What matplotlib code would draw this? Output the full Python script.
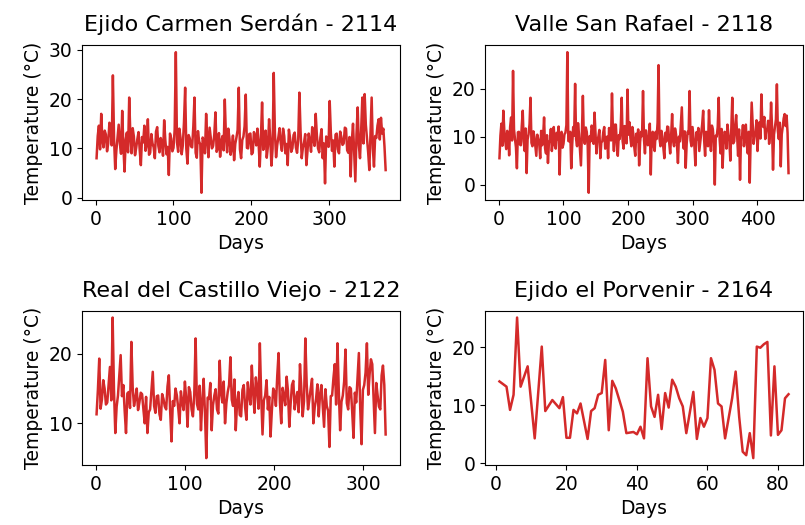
import matplotlib
matplotlib.use('Agg')
import matplotlib.pyplot as plt
import numpy as np

# Estaciones y datos
titles = ['Ejido Carmen Serdán - 2114', 'Valle San Rafael - 2118',
          'Real del Castillo Viejo - 2122', 'Ejido el Porvenir - 2164']

# 2114: un valor cada 1.5 días
temp_2114 = [8.0, 12.5, 14.6, 9.8, 17.0, 11.5, 10.2, 13.6, 12.8, 9.4,
             11.0, 15.2, 14.2, 10.6, 24.8, 12.0, 5.8, 9.6, 12.1, 14.8,
             11.0, 8.9, 17.6, 10.4, 5.3, 11.8, 13.2, 9.2, 20.3, 12.6,
             9.0, 14.1, 12.4, 8.6, 10.1, 11.9, 13.3, 9.7, 6.6, 12.3,
             11.2, 14.6, 9.5, 10.8, 15.9, 8.7, 9.1, 12.9, 11.0, 10.2,
             8.0, 13.4, 14.3, 10.5, 9.2, 12.1, 11.3, 8.5, 15.7, 11.6,
             8.8, 10.3, 4.6, 13.0, 12.0, 9.4, 10.1, 13.8, 29.5, 11.2,
             9.3, 14.0, 12.2, 8.8, 10.6, 15.3, 22.3, 9.9, 6.9, 12.7,
             12.0, 10.4, 10.2, 14.4, 20.3, 9.1, 8.1, 13.5, 11.4, 10.8,
             1.0, 12.2, 11.5, 9.0, 17.0, 11.9, 8.2, 14.2, 12.0, 10.0,
             10.5, 12.8, 17.3, 9.3, 10.0, 13.1, 8.3, 11.4, 12.5, 9.6,
             19.9, 12.4, 9.2, 14.0, 12.0, 8.7, 10.2, 12.6, 7.6, 10.9,
             12.2, 13.7, 22.3, 9.8, 8.0, 11.7, 12.4, 14.5, 20.9, 10.1,
             10.0, 12.9, 13.0, 8.8, 9.1, 13.3, 12.5, 10.6, 14.0, 11.1,
             6.3, 12.2, 19.3, 9.7, 11.0, 13.6, 8.1, 10.4, 15.9, 12.0,
             6.5, 9.9, 25.3, 13.2, 8.2, 10.7, 12.3, 14.1, 11.1, 9.5,
             14.0, 12.5, 9.0, 10.9, 6.6, 13.8, 12.1, 9.3, 10.0, 12.7,
             13.2, 10.2, 9.1, 11.8, 21.3, 13.5, 8.0, 10.1, 11.2, 12.9,
             6.6, 9.6, 13.0, 11.4, 9.3, 14.3, 12.0, 10.5, 17.0, 12.6,
             10.0, 9.2, 12.2, 13.9, 8.0, 11.0, 2.9, 12.4, 12.0, 10.3,
             19.6, 13.1, 9.5, 11.6, 6.3, 12.8, 13.0, 9.8, 9.0, 13.4,
             12.3, 10.7, 11.0, 14.2, 14.0, 9.6, 9.1, 12.3, 4.3, 11.5,
             15.0, 9.4, 3.3, 12.9, 18.3, 10.6, 8.0, 13.7, 20.3, 11.0,
             21.0, 14.8, 12.0, 9.2, 5.6, 13.3, 20.3, 10.0, 6.3, 12.5,
             12.1, 14.6, 15.9, 11.8, 16.2, 13.0, 14.0, 10.4, 5.6]
days_2114 = 1 + 1.5 * np.arange(len(temp_2114))

# 2118
temp_2118 = [5.5, 10.2, 12.7, 8.1, 15.4, 11.3, 9.0, 7.4, 11.2, 10.6,
             6.1, 12.0, 14.0, 9.2, 23.7, 11.5, 9.5, 7.8, 3.4, 10.9,
             11.0, 8.4, 8.2, 12.2, 15.4, 9.0, 7.0, 11.7, 2.4, 9.4,
             10.5, 12.6, 18.1, 8.7, 8.0, 11.1, 10.0, 7.9, 6.0, 10.4,
             9.5, 8.6, 5.5, 11.2, 8.2, 9.9, 14.0, 7.6, 6.5, 10.3,
             4.5, 8.9, 9.0, 11.6, 7.0, 9.3, 12.0, 8.2, 7.5, 10.8,
             9.5, 12.1, 2.1, 9.6, 11.0, 7.7, 8.5, 10.5, 10.8, 12.4,
             27.6, 9.1, 9.0, 11.0, 3.4, 8.3, 12.0, 10.2, 21.0, 9.5,
             8.0, 12.8, 10.5, 7.2, 4.0, 10.7, 18.5, 9.4, 8.5, 11.9,
             11.0, 8.0, -1.7, 10.1, 9.0, 12.3, 11.5, 8.5, 15.0, 10.6,
             6.5, 9.3, 10.0, 11.4, 5.5, 8.8, 9.0, 10.9, 12.0, 7.5,
             8.0, 10.0, 5.5, 11.8, 10.0, 9.2, 19.0, 10.8, 7.0, 12.5,
             12.5, 8.4, 6.0, 10.3, 9.5, 11.9, 18.1, 9.0, 7.5, 12.2,
             11.0, 8.6, 19.8, 10.4, 13.0, 9.7, 8.0, 12.0, 10.5, 7.8,
             6.0, 10.6, 9.0, 11.5, 4.0, 8.9, 11.0, 10.1, 19.5, 9.4,
             6.5, 11.3, 10.0, 8.2, 8.5, 12.7, 2.1, 10.5, 11.0, 8.1,
             7.0, 11.0, 9.5, 12.9, 24.9, 9.6, 8.0, 11.2, 10.0, 7.6,
             5.5, 10.8, 9.0, 12.1, 12.0, 8.7, 6.5, 10.3, 14.7, 9.1,
             8.0, 11.7, 10.5, 8.3, 4.5, 10.0, 9.0, 12.4, 16.1, 9.5,
             7.5, 11.1, 3.5, 8.6, 11.0, 10.7, 19.5, 9.2, 8.0, 12.0,
             10.0, 7.9, 4.0, 10.9, 9.5, 11.8, 7.0, 8.8, 10.5, 12.6,
             15.4, 9.3, 6.0, 11.0, 9.0, 8.0, 15.5, 10.5, 7.0, 12.3,
             11.5, 8.7, 0.0, 10.2, 10.0, 12.0, 18.1, 9.4, 6.5, 11.6,
             3.5, 8.4, 11.0, 10.8, 7.5, 12.5, 10.5, 9.0, 5.0, 11.3,
             18.1, 8.6, 9.0, 12.2, 14.5, 10.0, 6.0, 11.5, 1.0, 9.7,
             10.0, 12.4, 8.0, 10.6, 12.5, 8.3, 6.5, 11.0, 0.4, 9.9,
             17.1, 12.8, 8.5, 10.2, 11.0, 13.4, 7.0, 11.1, 13.0, 9.6,
             18.8, 12.7, 12.0, 14.1, 9.5, 11.4, 11.5, 13.3, 8.5, 10.9,
             17.1, 12.0, 3.1, 10.4, 12.0, 13.6, 20.9, 11.2, 9.5, 12.9,
             3.8, 10.5, 12.0, 13.8, 14.7, 12.2, 14.4, 10.8, 2.4]
days_2118 = 1 + 1.5 * np.arange(len(temp_2118))

# 2122
temp_2122 = [11.3, 14.8, 19.3, 12.1, 13.4, 16.2, 15.0, 12.7, 13.0, 15.6,
             18.1, 13.3, 25.2, 14.9, 8.6, 12.4, 14.0, 16.8, 19.8, 13.9,
             15.5, 11.8, 8.6, 14.3, 14.5, 12.2, 21.7, 15.1, 12.5, 13.6,
             15.0, 11.9, 13.0, 14.4, 14.2, 12.0, 10.0, 13.8, 8.6, 11.6,
             12.0, 14.7, 17.4, 12.5, 11.5, 13.9, 14.0, 11.3, 10.5, 14.2,
             13.5, 12.4, 12.0, 15.3, 16.9, 11.7, 7.4, 13.2, 12.5, 15.0,
             14.0, 12.2, 10.0, 14.6, 13.0, 11.9, 16.0, 13.5, 9.5, 15.2,
             14.5, 12.0, 11.0, 14.1, 22.2, 12.8, 12.0, 15.4, 9.0, 13.1,
             16.4, 11.5, 5.0, 13.7, 13.5, 15.8, 9.0, 12.6, 14.0, 14.9,
             12.0, 11.4, 19.0, 14.3, 13.0, 16.0, 10.0, 12.9, 14.5, 15.5,
             19.5, 13.4, 12.5, 16.3, 9.0, 13.0, 14.5, 11.2, 11.0, 14.8,
             15.5, 12.3, 10.5, 15.9, 14.0, 12.7, 18.3, 14.4, 11.5, 16.6,
             15.0, 12.1, 21.5, 14.0, 8.4, 13.3, 14.0, 16.2, 12.0, 13.8,
             8.1, 11.9, 15.0, 14.5, 12.5, 16.8, 20.1, 13.0, 10.0, 15.1,
             14.0, 12.6, 16.7, 14.7, 9.5, 12.8, 15.5, 16.1, 12.0, 13.5,
             14.5, 11.6, 18.5, 15.0, 11.0, 13.2, 22.2, 15.7, 12.0, 13.4,
             15.0, 16.4, 10.0, 12.3, 13.5, 15.6, 11.0, 14.2, 15.5, 12.5,
             9.5, 14.9, 12.5, 11.8, 6.6, 13.9, 14.0, 16.5, 18.5, 12.7,
             21.5, 14.6, 9.0, 13.1, 14.0, 16.0, 20.6, 12.9, 12.0, 15.2,
             15.0, 11.7, 7.9, 14.4, 13.0, 16.7, 20.1, 12.2, 7.0, 14.8,
             15.5, 17.3, 21.5, 14.1, 17.0, 19.2, 18.5, 13.6, 8.6, 15.8,
             14.0, 12.4, 12.0, 16.9, 18.3, 15.5, 8.4]
days_2122 = 1 + 1.5 * np.arange(len(temp_2122))

# 2164
days_2164 = [1, 3, 4, 5, 6, 7, 9, 11, 13, 14, 16, 18, 19, 20, 21, 22, 23, 24,
             26, 27, 28, 29, 30, 31, 32, 33, 34, 36, 37, 39, 40, 41, 42, 43,
             44, 45, 46, 47, 48, 49, 50, 51, 52, 53, 54, 56, 57, 58, 59, 60,
             61, 62, 63, 64, 65, 67, 68, 69, 70, 71, 72, 73, 74, 75, 76, 77,
             78, 79, 80, 81, 82, 83]
temp_2164 = [14.1, 13.2, 9.2, 11.8, 25.1, 13.2, 16.7, 4.3, 20.1, 9.0, 10.9,
             9.5, 11.4, 4.4, 4.4, 9.2, 8.6, 10.3, 4.2, 9.0, 9.5, 11.8, 12.1,
             17.8, 5.7, 14.2, 12.9, 8.9, 5.2, 5.4, 5.0, 6.3, 4.3, 18.1, 9.8,
             8.0, 11.8, 5.9, 12.1, 9.6, 14.4, 13.2, 11.2, 9.8, 5.2, 12.3, 4.2,
             7.8, 6.3, 7.8, 18.1, 16.1, 10.3, 9.8, 4.3, 11.2, 15.8, 8.0, 2.0,
             1.4, 5.2, 0.9, 20.1, 19.9, 20.5, 20.9, 4.8, 16.7, 4.9, 5.7, 11.2,
             11.9]

series = [(days_2114, temp_2114), (days_2118, temp_2118),
          (days_2122, temp_2122), (days_2164, temp_2164)]

fig, axs = plt.subplots(2, 2, figsize=(8.05, 5.25), dpi=100)
plt.subplots_adjust(left=0.102, right=0.9975, top=0.914, bottom=0.114,
                    wspace=0.267, hspace=0.716)

for ax, title, (d, t) in zip(axs.flat, titles, series):
    ax.plot(d, t, color='#d42a2a', linewidth=1.8)
    ax.set_title(title, fontsize=16, pad=10)
    ax.set_xlabel('Days', fontsize=13.5)
    ax.set_ylabel('Temperature (°C)', fontsize=13.5)
    ax.tick_params(labelsize=13.5)

axs[0, 0].set_yticks([0, 10, 20, 30])
axs[0, 1].set_yticks([0, 10, 20])
axs[1, 0].set_yticks([10, 20])
axs[1, 1].set_yticks([0, 10, 20])

plt.savefig('out.png', dpi=100)
